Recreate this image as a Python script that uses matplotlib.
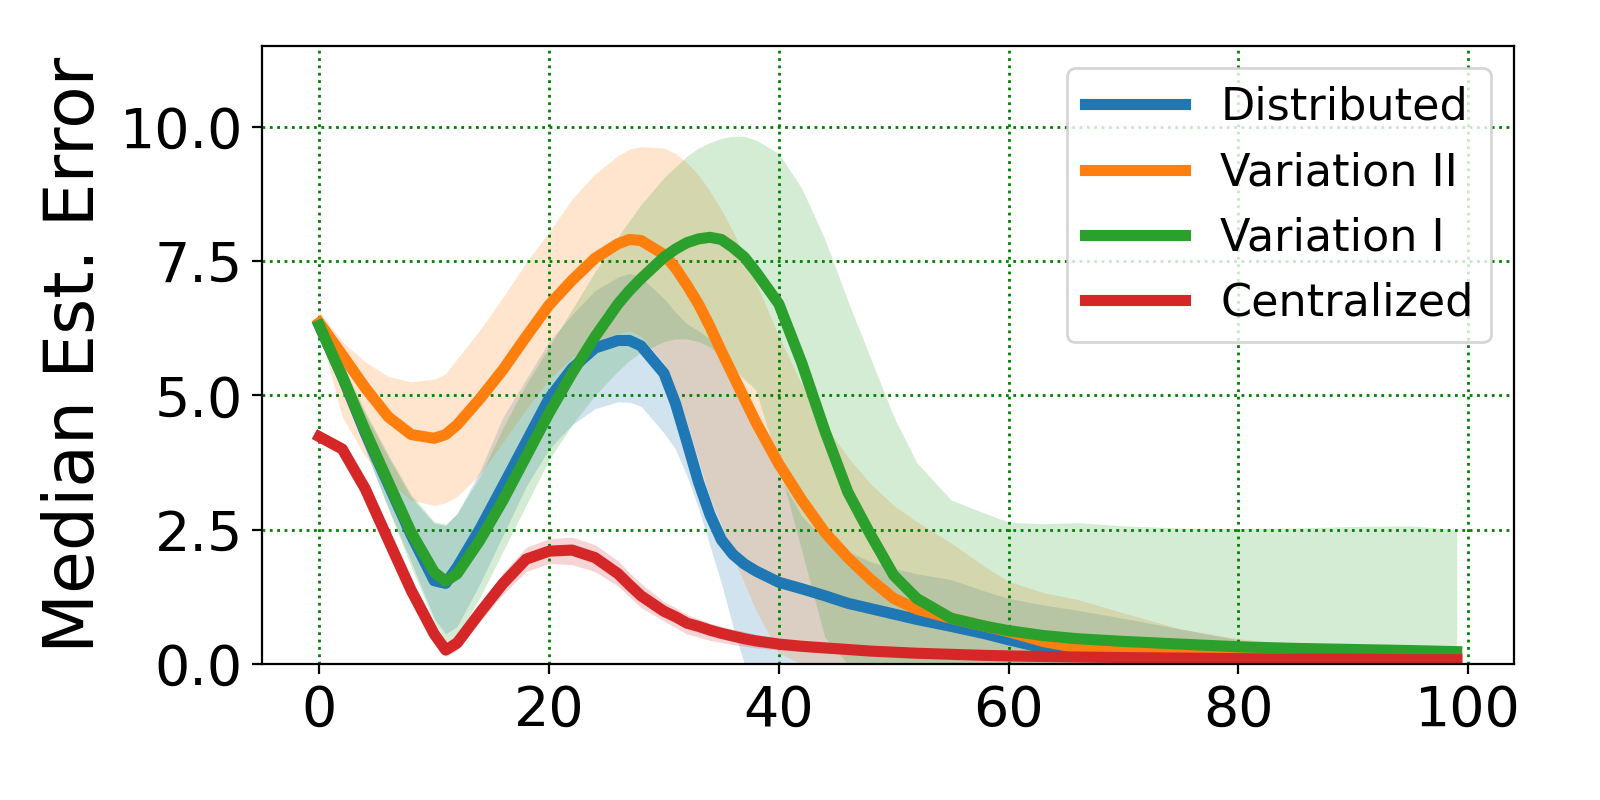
import numpy as np
import matplotlib
matplotlib.use("Agg")
import matplotlib.pyplot as plt

# iteration index (sampled) shared by all series
steps = [0, 2, 4, 6, 8, 10, 11, 12, 14, 16, 18, 20, 22, 24, 26, 27, 28, 30, 31, 32,
         33, 34, 35, 36, 37, 38, 40, 42, 44, 46, 48, 50, 52, 55, 58, 60, 63, 66, 70,
         75, 80, 85, 90, 95, 99]

# Distributed
dist_med = [6.3, 5.35, 4.3, 3.35, 2.4, 1.55, 1.5, 1.8, 2.52, 3.32, 4.13, 4.94, 5.5, 5.88,
            6.02, 6.02, 5.92, 5.41, 4.85, 4.13, 3.39, 2.78, 2.31, 2.04, 1.86, 1.73, 1.52,
            1.4, 1.27, 1.13, 1.03, 0.93, 0.83, 0.7, 0.56, 0.45, 0.3, 0.23, 0.13, 0.09,
            0.07, 0.06, 0.05, 0.05, 0.05]
dist_lo = [6.2, 5.1, 4.0, 2.9, 1.9, 0.85, 0.56, 0.7, 1.5, 2.4, 3.3, 4.0, 4.45, 4.75, 4.88,
           4.87, 4.8, 4.3, 4.0, 3.5, 2.9, 2.2, 1.5, 0.7, 0.0, 0, 0, 0, 0, 0, 0, 0, 0, 0,
           0, 0, 0, 0, 0, 0, 0, 0, 0, 0, 0]
dist_hi = [6.4, 5.55, 4.65, 3.85, 3.1, 2.62, 2.58, 2.8, 3.6, 4.6, 5.3, 6.0, 6.5, 6.95, 7.2,
           7.27, 7.2, 6.8, 6.55, 6.33, 6.2, 6.05, 5.75, 5.45, 5.0, 4.4, 3.5, 2.75, 2.3,
           2.1, 1.9, 1.78, 1.68, 1.57, 1.35, 1.22, 1.1, 1.0, 0.85, 0.65, 0.45, 0.3, 0.2,
           0.15, 0.12]

# Variation II
var2_med = [6.35, 5.75, 5.14, 4.6, 4.27, 4.2, 4.27, 4.45, 4.94, 5.48, 6.09, 6.68, 7.14,
            7.55, 7.82, 7.9, 7.88, 7.62, 7.37, 7.05, 6.7, 6.28, 5.82, 5.38, 4.94, 4.5,
            3.72, 3.05, 2.45, 1.98, 1.57, 1.22, 1.02, 0.85, 0.7, 0.6, 0.42, 0.3, 0.22,
            0.19, 0.17, 0.14, 0.12, 0.11, 0.1]
var2_lo = [6.2, 4.6, 3.86, 3.4, 3.05, 2.95, 3.0, 3.12, 3.53, 4.13, 4.74, 5.3, 5.7, 6.0,
           6.15, 6.2, 6.1, 5.6, 5.1, 4.5, 3.8, 3.1, 2.6, 2.0, 1.5, 1.0, 0.2, 0, 0, 0, 0, 0,
           0, 0, 0, 0, 0, 0, 0, 0, 0, 0, 0, 0, 0]
var2_hi = [6.56, 6.0, 5.62, 5.35, 5.25, 5.3, 5.4, 5.68, 6.22, 6.83, 7.47, 8.04, 8.65, 9.12,
           9.46, 9.58, 9.63, 9.6, 9.5, 9.33, 9.1, 8.8, 8.45, 8.05, 7.6, 7.1, 6.1, 5.2, 4.45,
           3.85, 3.35, 2.95, 2.65, 2.25, 1.8, 1.54, 1.33, 1.2, 0.95, 0.65, 0.47, 0.36, 0.28,
           0.24, 0.2]

# Variation I
var1_med = [6.3, 5.35, 4.34, 3.39, 2.45, 1.71, 1.54, 1.68, 2.31, 3.05, 3.86, 4.67, 5.41,
            6.09, 6.7, 6.95, 7.17, 7.57, 7.72, 7.84, 7.91, 7.94, 7.9, 7.75, 7.57, 7.3, 6.7,
            5.6, 4.34, 3.2, 2.4, 1.65, 1.22, 0.85, 0.7, 0.62, 0.53, 0.47, 0.42, 0.37, 0.32,
            0.29, 0.27, 0.25, 0.23]
var1_lo = [6.2, 5.1, 4.0, 2.9, 1.8, 0.8, 0.42, 0.5, 1.25, 2.1, 2.95, 3.8, 4.45, 5.0, 5.45,
           5.65, 5.8, 6.0, 6.05, 6.05, 6.0, 5.9, 5.75, 5.5, 5.3, 5.1, 3.7, 2.1, 0.5, 0, 0,
           0, 0, 0, 0, 0, 0, 0, 0, 0, 0, 0, 0, 0, 0]
var1_hi = [6.4, 5.6, 4.7, 3.9, 3.15, 2.65, 2.6, 2.8, 3.5, 4.4, 5.2, 5.9, 6.6, 7.3, 7.95,
           8.25, 8.55, 9.05, 9.25, 9.45, 9.6, 9.7, 9.78, 9.82, 9.82, 9.75, 9.5, 8.85, 7.91,
           6.76, 5.68, 4.6, 3.75, 3.05, 2.8, 2.64, 2.61, 2.63, 2.57, 2.53, 2.52, 2.53, 2.56,
           2.57, 2.5]

# Centralized
cent_med = [4.23, 4.0, 3.26, 2.31, 1.37, 0.56, 0.26, 0.39, 0.96, 1.5, 1.95, 2.1, 2.12, 1.98,
            1.68, 1.47, 1.27, 0.98, 0.88, 0.76, 0.7, 0.63, 0.57, 0.52, 0.47, 0.43, 0.37,
            0.33, 0.3, 0.27, 0.24, 0.22, 0.2, 0.18, 0.16, 0.15, 0.14, 0.13, 0.12, 0.11, 0.1,
            0.09, 0.09, 0.08, 0.08]
cent_lo = [4.15, 3.9, 3.1, 2.15, 1.2, 0.42, 0.14, 0.26, 0.8, 1.3, 1.72, 1.87, 1.85, 1.72,
           1.45, 1.25, 1.05, 0.8, 0.68, 0.56, 0.5, 0.44, 0.4, 0.36, 0.33, 0.3, 0.26, 0.23,
           0.2, 0.18, 0.16, 0.14, 0.13, 0.11, 0.1, 0.09, 0.08, 0.08, 0.07, 0.06, 0.06, 0.05,
           0.05, 0.05, 0.05]
cent_hi = [4.3, 4.1, 3.4, 2.45, 1.55, 0.72, 0.4, 0.55, 1.12, 1.7, 2.17, 2.33, 2.36, 2.22,
           1.92, 1.7, 1.5, 1.16, 1.05, 0.92, 0.84, 0.76, 0.7, 0.65, 0.6, 0.55, 0.48, 0.43,
           0.4, 0.36, 0.32, 0.3, 0.27, 0.25, 0.22, 0.21, 0.19, 0.18, 0.17, 0.15, 0.14, 0.13,
           0.12, 0.11, 0.11]

series = [
    ("Distributed", "tab:blue", dist_med, dist_lo, dist_hi),
    ("Variation II", "tab:orange", var2_med, var2_lo, var2_hi),
    ("Variation I", "tab:green", var1_med, var1_lo, var1_hi),
    ("Centralized", "tab:red", cent_med, cent_lo, cent_hi),
]

fig, ax = plt.subplots(figsize=(8, 4), dpi=200)
fig.subplots_adjust(left=0.164, right=0.946, bottom=0.17, top=0.9425)

for label, color, med, lo, hi in series:
    ax.fill_between(steps, lo, hi, color=color, alpha=0.2, linewidth=0)
for label, color, med, lo, hi in series:
    ax.plot(steps, med, color=color, lw=4, label=label)

ax.set_ylim(0, 11.5)
ax.set_yticks([0, 2.5, 5.0, 7.5, 10.0])
ax.set_xticks([0, 20, 40, 60, 80, 100])
ax.tick_params(labelsize=20)
ax.set_ylabel("Median Est. Error", fontsize=25)
ax.grid(color="green", linestyle=":", linewidth=1)
ax.legend(loc="upper right", fontsize=16, handlelength=2.25)

plt.savefig("out.png", dpi=200)
